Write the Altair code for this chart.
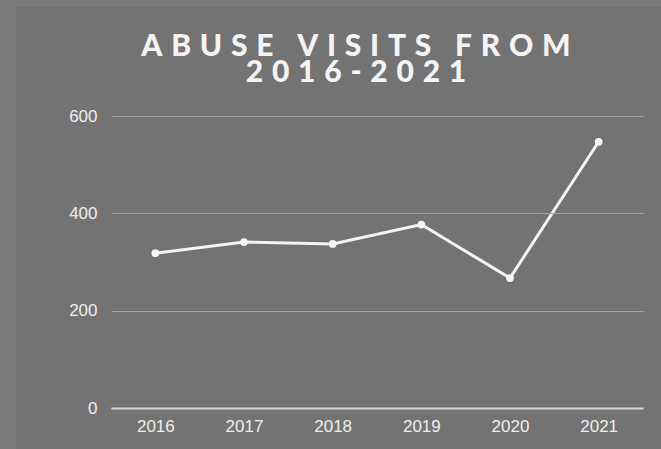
import altair as alt
import pandas as pd

years = ["2016", "2017", "2018", "2019", "2020", "2021"]
visits = [318, 341, 337, 377, 267, 547]

df = pd.DataFrame({"year": years, "visits": visits})

TS = "\u2009\u2006"  # letter spacing
def spaced(s):
    words = s.split(" ")
    return ("\u2002" + TS).join(TS.join(list(w)) for w in words)

title_lines = [spaced("ABUSE VISITS FROM"), spaced("2016-2021")]

W, H = 532, 292
PAD_L, PAD_T = 111, 116

bg = alt.Chart(pd.DataFrame({"a": [0]})).mark_rect(color="#737373").encode(
    x=alt.value(16 - PAD_L), x2=alt.value(661 - PAD_L),
    y=alt.value(7 - PAD_T), y2=alt.value(449 - PAD_T),
)

base = alt.Chart(df).encode(
    x=alt.X("year:N", sort=years, title=None,
            scale=alt.Scale(paddingInner=0, paddingOuter=0),
            axis=alt.Axis(labelAngle=0, labelColor="#eeeeee", labelFontSize=17,
                          labelFont="Liberation Sans", labelPadding=10,
                          ticks=False, domainColor="#d6d6d6", domainWidth=2,
                          grid=False, zindex=1)),
    y=alt.Y("visits:Q", title=None,
            scale=alt.Scale(domain=[0, 600], nice=False),
            axis=alt.Axis(values=[0, 200, 400, 600], labelColor="#eeeeee",
                          labelFontSize=17, labelFont="Liberation Sans",
                          labelPadding=14, ticks=False, domain=False,
                          gridColor="#a3a3a3", gridWidth=1, zindex=1)),
)

line = base.mark_line(color="#f4f4f4", strokeWidth=3)
pts = base.mark_point(filled=True, color="#f4f4f4", size=60, opacity=1)

chart = alt.layer(bg, line, pts).properties(
    width=W, height=H,
    background="#7b7b7b",
    padding={"left": PAD_L, "top": PAD_T, "right": 661 - PAD_L - W, "bottom": 449 - PAD_T - H},
    autosize=alt.AutoSizeParams(type="none"),
    title=alt.TitleParams(text=title_lines, color="#f4f4f4", font="Lato",
                          fontSize=30, fontWeight=900, lineHeight=26,
                          anchor="middle", frame="group", offset=-81, dx=-21,
                          zindex=2),
).configure_view(strokeWidth=0)

chart.save("out.html", embed_options={"renderer": "svg", "actions": False})
